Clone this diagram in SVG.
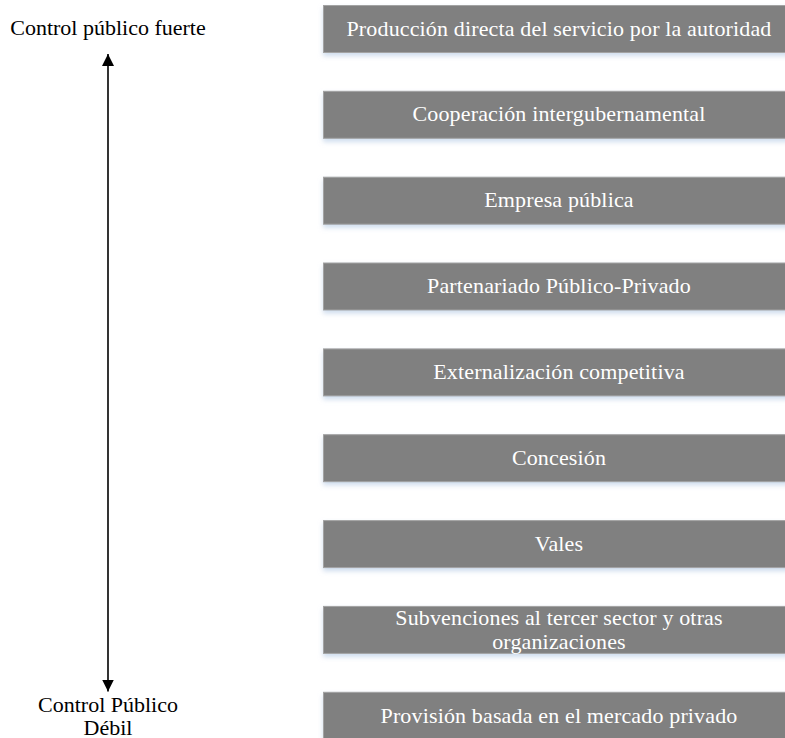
<svg xmlns="http://www.w3.org/2000/svg" width="785" height="738" viewBox="0 0 785 738">
<style>
.box{fill:#808080;stroke:#a3a3a3;stroke-width:1;filter:url(#sh)}
.bt{font-family:"Liberation Serif","Times New Roman",serif;font-size:22px;letter-spacing:0.15px;fill:#ffffff;text-anchor:middle}
.lt{font-family:"Liberation Serif","Times New Roman",serif;font-size:22px;fill:#000000;text-anchor:middle}
.conn{stroke:#000;stroke-width:1.6;fill:none}
</style>
<defs>
<filter id="sh" x="-5%" y="-20%" width="110%" height="160%">
<feDropShadow dx="0" dy="3" stdDeviation="2.5" flood-color="#b9cde6" flood-opacity="0.7"/>
</filter>
<marker id="ah" markerUnits="userSpaceOnUse" markerWidth="12" markerHeight="12" viewBox="0 0 12 12" refX="12" refY="6" orient="auto-start-reverse">
<path d="M0,0 L12,6 L0,12 Z" fill="#000"/>
</marker>
</defs>
<g id="connectors">
<line class="conn" x1="108" y1="54" x2="108" y2="691.5" marker-start="url(#ah)" marker-end="url(#ah)"/>
</g>
<g id="label-top"><text class="lt" x="108" y="35">Control público fuerte</text></g>
<g id="label-bottom"><text class="lt" x="108" y="711.5">Control Público</text><text class="lt" x="108" y="734.5">Débil</text></g>
<g id="n1"><rect class="box" x="323.5" y="5.5" width="472" height="47"/><text class="bt" x="559" y="35.5">Producción directa del servicio por la autoridad</text></g>
<g id="n2"><rect class="box" x="323.5" y="91.3" width="472" height="47"/><text class="bt" x="559" y="121.3">Cooperación intergubernamental</text></g>
<g id="n3"><rect class="box" x="323.5" y="177.2" width="472" height="47"/><text class="bt" x="559" y="207.2">Empresa pública</text></g>
<g id="n4"><rect class="box" x="323.5" y="263" width="472" height="47"/><text class="bt" x="559" y="293">Partenariado Público-Privado</text></g>
<g id="n5"><rect class="box" x="323.5" y="348.9" width="472" height="47"/><text class="bt" x="559" y="378.9">Externalización competitiva</text></g>
<g id="n6"><rect class="box" x="323.5" y="434.7" width="472" height="47"/><text class="bt" x="559" y="464.7">Concesión</text></g>
<g id="n7"><rect class="box" x="323.5" y="520.6" width="472" height="47"/><text class="bt" x="559" y="550.6">Vales</text></g>
<g id="n8"><rect class="box" x="323.5" y="606.4" width="472" height="47"/><text class="bt" x="559" y="625">Subvenciones al tercer sector y otras</text><text class="bt" x="559" y="649">organizaciones</text></g>
<g id="n9"><rect class="box" x="323.5" y="692.3" width="472" height="47"/><text class="bt" x="559" y="723">Provisión basada en el mercado privado</text></g>
</svg>
